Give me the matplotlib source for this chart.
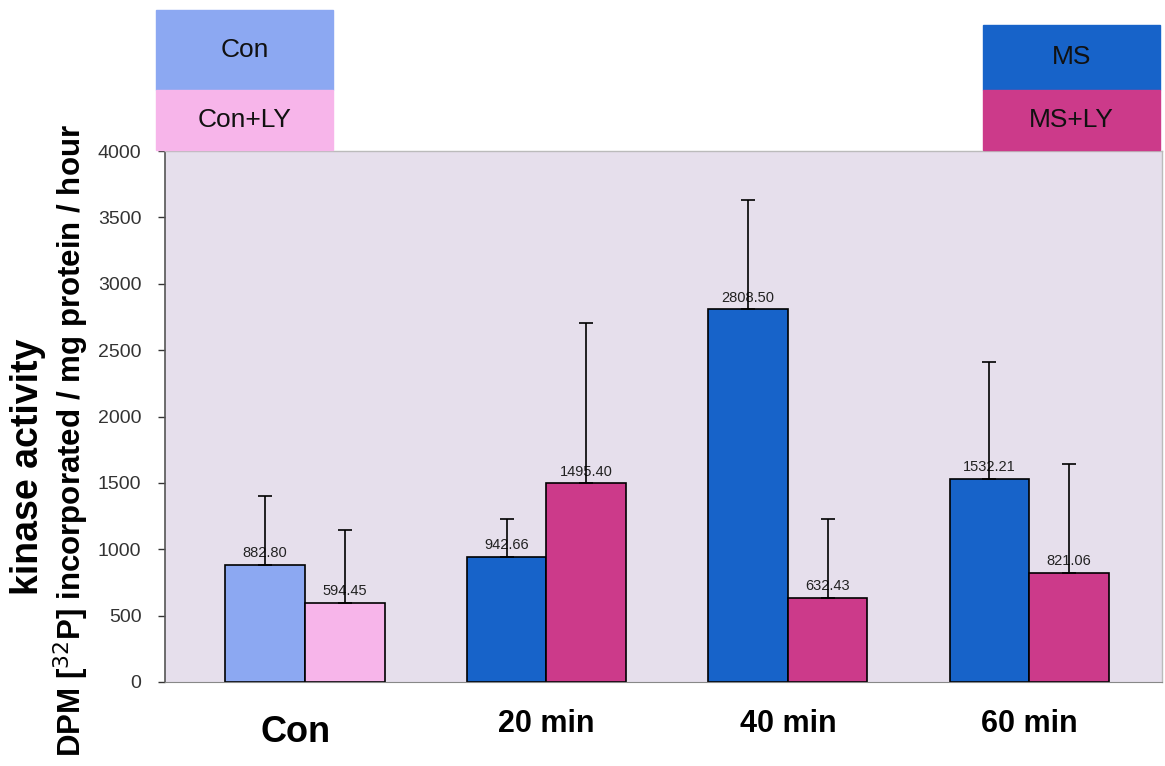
import numpy as np
import matplotlib
matplotlib.use("Agg")
import matplotlib.pyplot as plt
from matplotlib.patches import Rectangle

# values
groups = ["Con", "20 min", "40 min", "60 min"]
ms_vals = [882.80, 942.66, 2808.50, 1532.21]
ms_err = [520, 285, 822, 881]
ly_vals = [594.45, 1495.40, 632.43, 821.06]
ly_err = [551, 1209, 595, 821]
yticks = [0, 500, 1000, 1500, 2000, 2500, 3000, 3500, 4000]

CON_BLUE = "#8ca8f2"
CON_PINK = "#f7b5ea"
MS_BLUE = "#1763c9"
MS_PINK = "#cc3a8a"
BG = "#e6dfec"

plt.rcParams['font.family'] = ['Liberation Sans', 'DejaVu Sans']

fig = plt.figure(figsize=(11.65, 7.66), dpi=100)
ax = fig.add_axes([165 / 1165, 1 - 682 / 766, (1162 - 165) / 1165, (682 - 151) / 766])
ax.set_facecolor(BG)

x = np.arange(len(groups))
w = 0.33
c1 = [CON_BLUE] + [MS_BLUE] * 3
c2 = [CON_PINK] + [MS_PINK] * 3

ax.bar(x - w / 2, ms_vals, w, color=c1, edgecolor="black", linewidth=1.2, zorder=2)
ax.bar(x + w / 2, ly_vals, w, color=c2, edgecolor="black", linewidth=1.2, zorder=2)

# value labels sit under the error bar line
for xi, v in zip(x - w / 2, ms_vals):
    ax.text(xi, v + 35, "%.2f" % v, ha="center", va="bottom", fontsize=10.5, color="#222222", zorder=3)
for xi, v in zip(x + w / 2, ly_vals):
    ax.text(xi, v + 35, "%.2f" % v, ha="center", va="bottom", fontsize=10.5, color="#222222", zorder=3)

ax.errorbar(x - w / 2, ms_vals, yerr=[np.zeros(4), ms_err], fmt="none", ecolor="black",
            elinewidth=1.2, capsize=5, capthick=1.2, zorder=4)
ax.errorbar(x + w / 2, ly_vals, yerr=[np.zeros(4), ly_err], fmt="none", ecolor="black",
            elinewidth=1.2, capsize=5, capthick=1.2, zorder=4)

ax.set_xlim(-0.58, 3.55)
ax.set_ylim(0, 4000)
ax.set_yticks(yticks)
ax.tick_params(axis="y", direction="out", length=5, width=1, labelsize=14, pad=12, colors="#333333")
ax.set_xticks([])

for s in ["top", "right"]:
    ax.spines[s].set_color("#bbbbbb")
    ax.spines[s].set_linewidth(1)
ax.spines["left"].set_color("#555555")
ax.spines["bottom"].set_color("#888888")
ax.spines["left"].set_linewidth(1.2)

# category labels below the axis
for i, g in enumerate(groups):
    if i == 0:
        ax.text(x[i] - 0.04, -0.095, g, transform=ax.get_xaxis_transform(), ha="center", va="center",
                fontsize=26, fontweight="bold")
    else:
        ax.text(x[i], -0.08, g, transform=ax.get_xaxis_transform(), ha="center", va="center",
                fontsize=22, fontweight="bold")

# y labels
fig.text(28 / 1165, 1 - 467 / 766, "kinase activity", rotation=90, ha="center", va="center",
         fontsize=27, fontweight="bold")
fig.text(71 / 1165, 1 - 441 / 766, "DPM [$^{32}$P] incorporated / mg protein / hour", rotation=90,
         ha="center", va="center", fontsize=22.5, fontweight="bold")

# legend boxes at the top
def box(x0, y0, x1, y1, color, label):
    fig.patches.append(Rectangle((x0 / 1165, 1 - y1 / 766), (x1 - x0) / 1165, (y1 - y0) / 766,
                                 transform=fig.transFigure, color=color, zorder=1))
    fig.text((x0 + x1) / 2 / 1165, 1 - (y0 + y1) / 2 / 766, label, ha="center", va="center",
             fontsize=19, color="#111111")

box(156, 10, 333, 90, CON_BLUE, "Con")
box(156, 90, 333, 150, CON_PINK, "Con+LY")
box(983, 25, 1160, 90, MS_BLUE, "MS")
box(983, 90, 1160, 150, MS_PINK, "MS+LY")

fig.savefig("out.png", dpi=100, facecolor="white")
